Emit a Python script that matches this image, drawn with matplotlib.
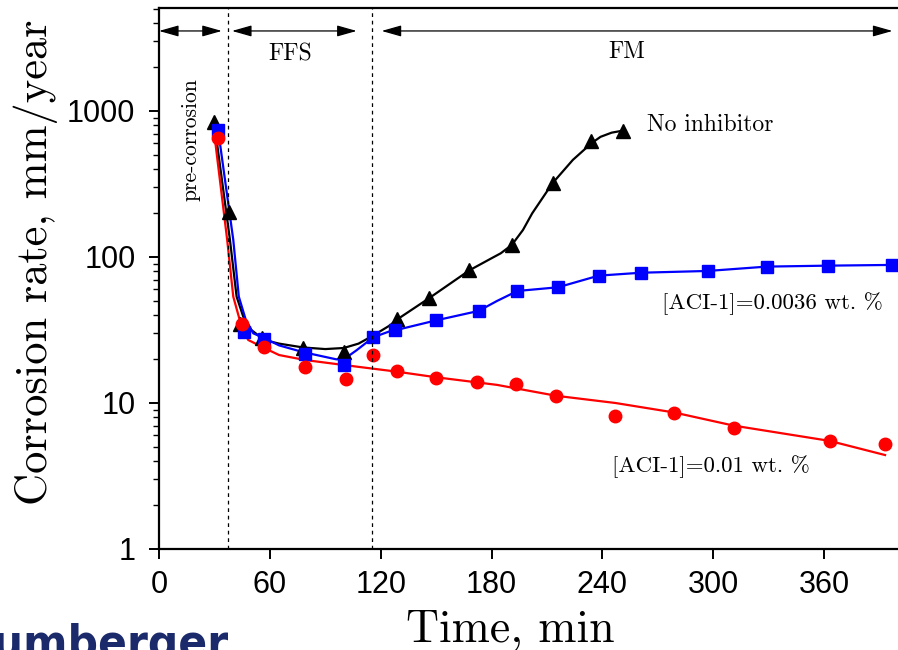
import matplotlib.pyplot as plt
from matplotlib.ticker import LogLocator, NullFormatter

# measured points (markers)
time_black = [30, 38, 44, 56, 78, 100, 129, 146, 168, 191, 213, 234, 251]
rate_black = [840, 202, 35, 27.7, 23.7, 22.5, 37.4, 52, 81.5, 121, 320, 626, 733]

time_blue = [32, 46, 57, 79, 100, 116, 128, 150, 173, 194, 216, 238, 261, 297, 329, 362, 397]
rate_blue = [740, 30.5, 27.4, 21.8, 18.1, 28.2, 31.5, 36.8, 42.7, 58.5, 62, 74.5, 78, 80.2, 85.9, 87.2, 88.2]

time_red = [32, 45, 57, 79, 101, 116, 129, 150, 172, 193, 215, 247, 279, 311, 363, 393]
rate_red = [650, 35, 24, 17.5, 14.7, 21.4, 16.6, 14.8, 14.0, 13.5, 11.2, 8.2, 8.6, 6.7, 5.5, 5.2]

# fitted curves
fit_black_t = [30, 38.4, 42, 45.6, 50, 57, 65, 78, 90, 100, 108, 116, 125, 129, 146, 168,
               180, 185, 191, 197, 202, 213, 224, 234, 239, 245, 251]
fit_black_r = [815, 131, 53.5, 39, 31.6, 27, 25.5, 24, 23.4, 23.8, 25.5, 29, 34, 37.4, 52, 81,
               98, 106, 121, 153, 199, 320, 462, 600, 665, 710, 733]

fit_blue_t = [32, 40.2, 43.2, 47, 51, 57.3, 65, 78, 89, 96, 101, 107, 116, 125, 128, 150, 173,
              183, 194, 216, 238, 261, 297, 329, 362, 397]
fit_blue_r = [741, 131, 53.5, 37, 30, 27.7, 24.8, 22.3, 20.8, 19.9, 20.3, 23, 28.2, 31, 31.5,
              36.8, 42.7, 50, 58.5, 62, 74.5, 78, 80.2, 85.9, 87.2, 88.2]

fit_red_t = [29.2, 36.9, 40.2, 44.7, 48.3, 57.3, 65, 79, 100, 128.5, 150, 183, 215, 247, 279,
             311, 363, 393]
fit_red_r = [830, 131, 53.5, 33.3, 27, 23.7, 21.3, 19.7, 18.2, 16.4, 15.0, 13.3, 11.2, 10.0,
             8.6, 7.0, 5.5, 4.4]

x_ticks = [0, 60, 120, 180, 240, 300, 360]
y_ticks = [1, 10, 100, 1000]
y_tick_labels = ['1', '10', '100', '1000']

stage_bounds = [37.3, 115.1]

serif = 'cmr10'


def draw_stage_arrows(ax):
    y = 3530
    arrow = dict(arrowstyle='<|-|>,head_length=0.6,head_width=0.17',
                 color='black', lw=0.9, shrinkA=0, shrinkB=0, mutation_scale=20)
    ax.annotate('', xy=(0, y), xytext=(34, y), arrowprops=arrow)
    ax.annotate('', xy=(39.5, y), xytext=(107, y), arrowprops=arrow)
    ax.annotate('', xy=(120.5, y), xytext=(397, y), arrowprops=arrow)
    ax.text(71, 2450, 'FFS', family=serif, fontsize=17, ha='center', va='center')
    ax.text(253, 2550, 'FM', family=serif, fontsize=17, ha='center', va='center')
    ax.text(17, 640, 'pre-corrosion', family=serif, fontsize=15.5, rotation=90,
            ha='center', va='center')


def main() -> None:
    fig = plt.figure(figsize=(8.98, 6.5), dpi=100)
    ax = fig.add_axes([159 / 898, 1 - 549 / 650, 1 - 159 / 898, (549 - 8) / 650])

    ax.plot(fit_black_t, fit_black_r, color='black', lw=1.6)
    ax.plot(fit_blue_t, fit_blue_r, color='#0000ff', lw=1.6)
    ax.plot(fit_red_t, fit_red_r, color='#ff0000', lw=1.6)

    ax.plot(time_black, rate_black, '^', color='black', ms=10.5, ls='none')
    ax.plot(time_blue, rate_blue, 's', color='#0000ff', ms=8, ls='none')
    ax.plot(time_red, rate_red, 'o', color='#ff0000', ms=9, ls='none')

    for xb in stage_bounds:
        ax.axvline(xb, color='black', lw=0.9, ls=(0, (3, 3)))

    draw_stage_arrows(ax)

    ax.text(264, 796, 'No inhibitor', family=serif, fontsize=17, va='center')
    ax.text(272, 47.7, '[ACI-1]=0.0036 wt. %', family=serif, fontsize=16.5, va='center')
    ax.text(245.4, 3.66, '[ACI-1]=0.01 wt. %', family=serif, fontsize=16.5, va='center')

    ax.set_yscale('log')
    ax.set_xlim(0, 400)
    ax.set_ylim(1, 5070)
    ax.set_xticks(x_ticks)
    ax.set_yticks(y_ticks)
    ax.set_yticklabels(y_tick_labels)
    ax.yaxis.set_minor_locator(LogLocator(base=10, subs=range(2, 10)))
    ax.yaxis.set_minor_formatter(NullFormatter())
    for lab in ax.get_xticklabels() + ax.get_yticklabels():
        lab.set_family('Liberation Sans')
        lab.set_fontsize(22)

    ax.tick_params(axis='both', which='major', direction='out', length=7, width=1.4)
    ax.tick_params(axis='y', which='minor', direction='out', length=4, width=1.0)
    ax.tick_params(axis='y', pad=10)
    ax.tick_params(axis='x', pad=8)
    ax.spines['right'].set_visible(False)
    for s in ['left', 'bottom', 'top']:
        ax.spines[s].set_linewidth(1.6)

    fig.text(510 / 898, 1 - 630 / 650, 'Time, min', family=serif, fontsize=33,
             ha='center', va='center')
    fig.text(36 / 898, 1 - 262 / 650, 'Corrosion rate, mm/year', family=serif,
             fontsize=32, rotation=90, ha='center', va='center')

    # logo, cut off at the corner as in the source
    fig.text(228 / 898, -0.012, 'Schlumberger', fontsize=34, weight='heavy',
             color='#1b2a6b', ha='right', va='baseline', family='DejaVu Sans',
             fontstretch='condensed')

    fig.savefig('out.png', dpi=100)


if __name__ == '__main__':
    main()
